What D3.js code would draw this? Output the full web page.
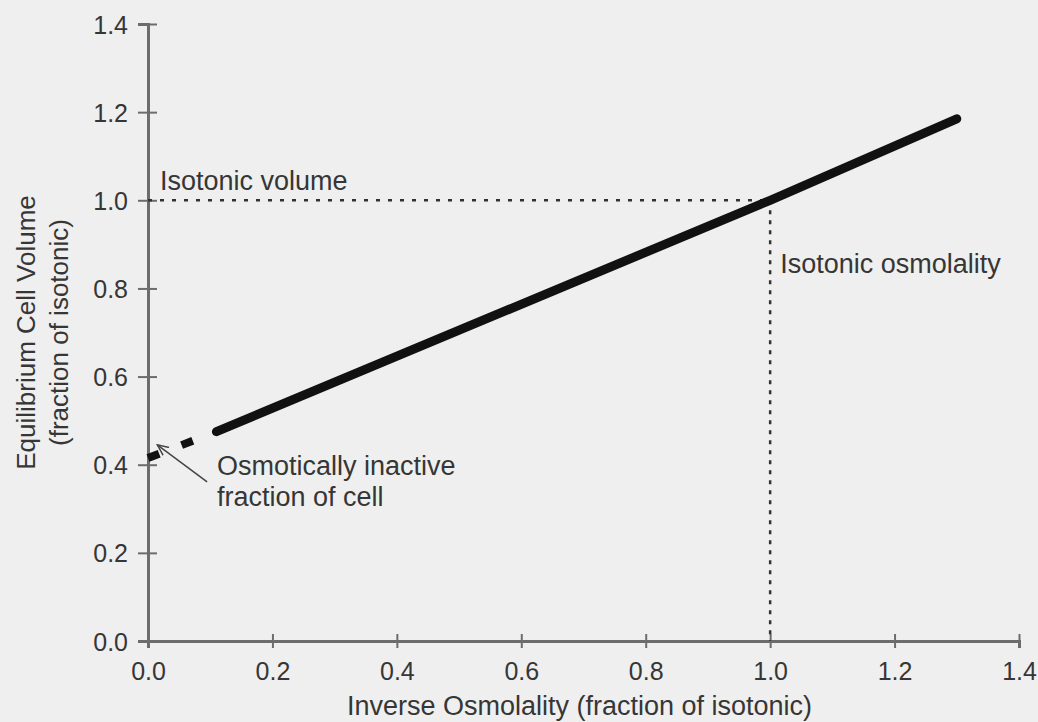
<!DOCTYPE html>
<html>
<head>
<meta charset="utf-8">
<script src="https://cdn.jsdelivr.net/npm/d3@7"></script>
<style>
  body { margin: 0; background: #efefef; }
  svg { display: block; font-family: "Liberation Sans", Arial, sans-serif; }
  .axis path, .axis line { stroke: #6c6c6c; }
  .axis text { fill: #363636; font-size: 25px; }
</style>
</head>
<body>
<svg id="chart" width="1038" height="722"></svg>
<script>
// values
const xTicks = [0.0, 0.2, 0.4, 0.6, 0.8, 1.0, 1.2, 1.4];
const yTicks = [0.0, 0.2, 0.4, 0.6, 0.8, 1.0, 1.2, 1.4];
const activeX = [0.11, 1.0, 1.3];
const activeY = [0.475, 1.0, 1.185];
const inactiveX = [0.0, 0.11];
const inactiveY = [0.415, 0.475];
const isotonic = 1.0;

const width = 1038, height = 722;
const margin = { top: 24, right: 19, bottom: 81, left: 148 };

const svg = d3.select('#chart');

const x = d3.scaleLinear().domain([0, 1.4]).range([margin.left, width - margin.right]);
const y = d3.scaleLinear().domain([0, 1.4]).range([height - margin.bottom, margin.top]);

const ink = '#363636';

// axes
const xAxis = svg.append('g')
    .attr('class', 'axis')
    .attr('transform', `translate(0,${y(0)})`)
    .call(d3.axisBottom(x).tickValues(xTicks).tickFormat(d3.format('.1f')).tickSizeOuter(0).tickSize(7).tickPadding(14));
xAxis.select('.domain').attr('stroke-width', 3);
xAxis.selectAll('.tick line').attr('y1', -7).attr('stroke-width', 2);

const yAxis = svg.append('g')
    .attr('class', 'axis')
    .attr('transform', `translate(${x(0)},0)`)
    .call(d3.axisLeft(y).tickValues(yTicks).tickFormat(d3.format('.1f')).tickSizeOuter(0).tickSize(10).tickPadding(10));
yAxis.select('.domain').attr('stroke-width', 3);
yAxis.selectAll('.tick line').attr('x1', 9).attr('stroke-width', 2);
yAxis.selectAll('.tick text').attr('dy', '0.36em');

// reference lines at isotonic
svg.append('line')
    .attr('x1', x(0)).attr('x2', x(isotonic))
    .attr('y1', y(isotonic)).attr('y2', y(isotonic))
    .attr('stroke', '#333').attr('stroke-width', 2.5)
    .attr('stroke-dasharray', '4,8');

svg.append('line')
    .attr('x1', x(isotonic)).attr('x2', x(isotonic))
    .attr('y1', y(isotonic)).attr('y2', y(0))
    .attr('stroke', '#333').attr('stroke-width', 2.5)
    .attr('stroke-dasharray', '4,6');

const line = d3.line().x(d => x(d[0])).y(d => y(d[1]));

// extrapolated part (dashed)
svg.append('path')
    .datum(d3.zip(inactiveX, inactiveY))
    .attr('d', line)
    .attr('fill', 'none')
    .attr('stroke', '#111')
    .attr('stroke-width', 8)
    .attr('stroke-dasharray', '12,24');

// measured relationship
svg.append('path')
    .datum(d3.zip(activeX, activeY))
    .attr('d', line)
    .attr('fill', 'none')
    .attr('stroke', '#111')
    .attr('stroke-width', 9)
    .attr('stroke-linecap', 'round');

// annotation arrow
svg.append('defs').append('marker')
    .attr('id', 'arrow')
    .attr('viewBox', '0 0 12 12')
    .attr('refX', 11).attr('refY', 6)
    .attr('markerWidth', 12).attr('markerHeight', 12)
    .attr('markerUnits', 'userSpaceOnUse')
    .attr('orient', 'auto')
    .append('path')
    .attr('d', 'M0,1 L11,6 L0,11')
    .attr('fill', 'none')
    .attr('stroke', '#444')
    .attr('stroke-width', 1.5);

svg.append('line')
    .attr('x1', x(0.095)).attr('y1', y(0.361))
    .attr('x2', x(0.015)).attr('y2', y(0.445))
    .attr('stroke', '#444').attr('stroke-width', 1.5)
    .attr('marker-end', 'url(#arrow)');

// labels
const label = (tx, ty, str) => svg.append('text')
    .attr('x', tx).attr('y', ty)
    .attr('fill', ink)
    .attr('font-size', 27)
    .text(str);

label(x(0) + 12, y(isotonic) - 10, 'Isotonic volume');
label(x(isotonic) + 10, y(0.835), 'Isotonic osmolality');
label(x(0.111), y(0.377), 'Osmotically inactive');
label(x(0.111), y(0.377) + 31, 'fraction of cell');

// axis titles
svg.append('text')
    .attr('x', (x(0) + x(1.4)) / 2 - 4)
    .attr('y', 715)
    .attr('text-anchor', 'middle')
    .attr('fill', ink)
    .attr('font-size', 27)
    .text('Inverse Osmolality (fraction of isotonic)');

const yTitle = svg.append('text')
    .attr('transform', `translate(35,${(y(0) + y(1.4)) / 2}) rotate(-90)`)
    .attr('text-anchor', 'middle')
    .attr('fill', ink)
    .attr('font-size', 26);
yTitle.append('tspan').attr('x', 0).attr('y', 0).text('Equilibrium Cell Volume');
yTitle.append('tspan').attr('x', 0).attr('y', 33).text('(fraction of isotonic)');
</script>
</body>
</html>
